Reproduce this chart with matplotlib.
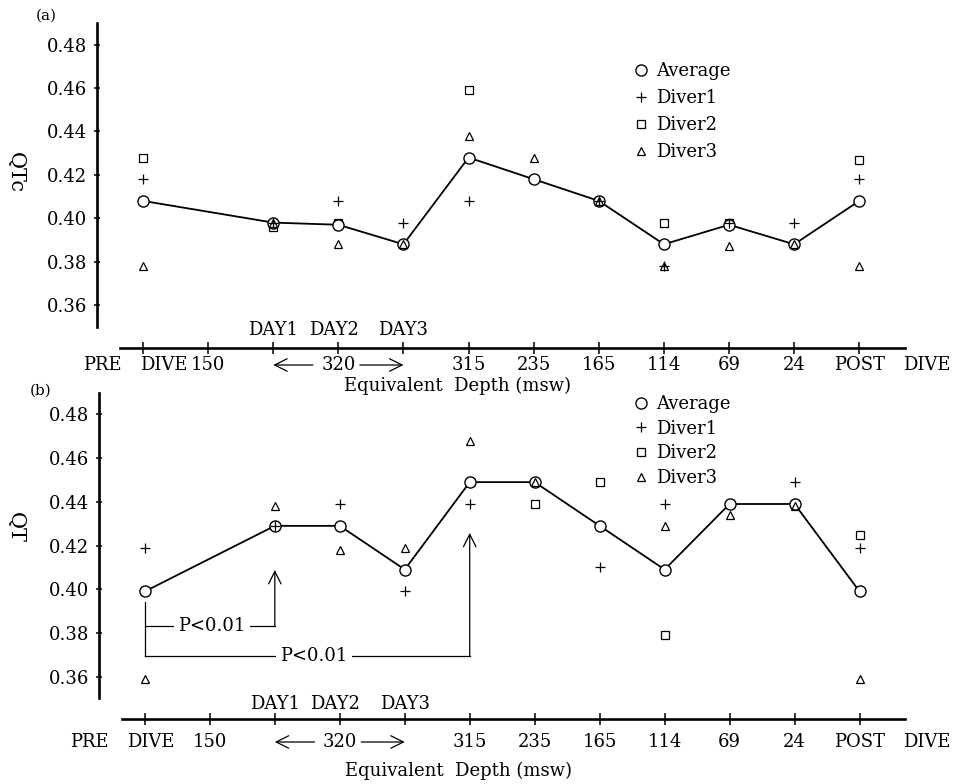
import matplotlib
matplotlib.use("Agg")
import matplotlib.pyplot as plt
from matplotlib.transforms import blended_transform_factory

plt.rcParams['font.family'] = ['DejaVu Serif']

NA = float("nan")  # marker hidden behind the Average circle in the original

# ---------------- data ----------------
tick_positions = list(range(12))
xtick_labels = ["", "150", "", "320", "", "315", "235", "165", "114", "69", "24", "POST"]
day_labels = ["DAY1", "DAY2", "DAY3"]
day_positions = [2, 2.93, 4]
data_x = [0, 2, 3, 4, 5, 6, 7, 8, 9, 10, 11]
yticks = [0.36, 0.38, 0.40, 0.42, 0.44, 0.46, 0.48]
series_names = ["Average", "Diver1", "Diver2", "Diver3"]

# Panel (a) QTc
avg_a = [0.408, 0.398, 0.397, 0.388, 0.428, 0.418, 0.408, 0.388, 0.397, 0.388, 0.408]
d1_a = [0.418, 0.398, 0.408, 0.398, 0.408, NA, 0.408, 0.378, 0.398, 0.398, 0.418]
d2_a = [0.428, 0.396, 0.398, 0.388, 0.459, 0.418, 0.408, 0.398, 0.398, 0.388, 0.427]
d3_a = [0.378, 0.398, 0.388, 0.388, 0.438, 0.428, 0.408, 0.378, 0.387, 0.388, 0.378]

# Panel (b) QT
avg_b = [0.399, 0.429, 0.429, 0.409, 0.449, 0.449, 0.429, 0.409, 0.439, 0.439, 0.399]
d1_b = [0.419, 0.429, 0.439, 0.399, 0.439, NA, 0.410, 0.439, NA, 0.449, 0.419]
d2_b = [0.399, 0.429, 0.429, 0.409, 0.449, 0.439, 0.449, 0.379, 0.439, 0.439, 0.425]
d3_b = [0.359, 0.438, 0.418, 0.419, 0.468, 0.449, NA, 0.429, 0.434, 0.438, 0.359]

FS = 13
W, H = 955, 784
fig = plt.figure(figsize=(W / 100, H / 100), dpi=100)


def make_panel(rect, ylim, series, lab_off, day_off, pre_x, dive_x, post_dive_x,
               legend_anchor, labelspacing):
    ax = fig.add_axes(rect)
    ax.set_xlim(-0.7066, 12.47)
    ax.set_ylim(*ylim)
    for s in ("top", "right"):
        ax.spines[s].set_visible(False)
    ax.spines["left"].set_bounds(0.35, 0.49)
    ax.spines["bottom"].set_bounds(-0.353, 11.70)
    ax.spines["left"].set_linewidth(1.9)
    ax.spines["bottom"].set_linewidth(1.9)

    ax.set_yticks(yticks)
    ax.set_yticklabels([f"{v:.2f}" for v in yticks])
    ax.tick_params(axis="y", direction="inout", length=5, width=1.1,
                   labelsize=FS, pad=4.5)

    ax.set_xticks(tick_positions)
    ax.set_xticklabels(xtick_labels)
    ax.tick_params(axis="x", direction="inout", length=8, width=1.1,
                   labelsize=FS, pad=lab_off * 0.72 - 4)
    for lbl in ax.get_xticklabels():
        lbl.set_va("center")

    avg, d1, d2, d3 = series
    ax.plot(data_x, avg, "-", color="k", lw=1.3, zorder=2)
    h_avg, = ax.plot(data_x, avg, "o", mfc="white", mec="k", ms=8, mew=1.0,
                     zorder=3, linestyle="none")
    h_d1, = ax.plot(data_x, d1, "+", color="k", ms=7, mew=0.9, zorder=4,
                    linestyle="none")
    h_d2, = ax.plot(data_x, d2, "s", mfc="white", mec="k", ms=5.5, mew=0.9,
                    zorder=2.5, linestyle="none")
    h_d3, = ax.plot(data_x, d3, "^", mfc="none", mec="k", ms=5.5, mew=0.9,
                    zorder=4, linestyle="none")

    axh_px = rect[3] * H
    tr = blended_transform_factory(ax.transData, ax.transAxes)
    yl = -lab_off / axh_px
    ax.text(pre_x, yl, "PRE", transform=tr, ha="center", va="center", fontsize=FS)
    ax.text(dive_x, yl, "DIVE", transform=tr, ha="center", va="center", fontsize=FS)
    ax.text(post_dive_x, yl, "DIVE", transform=tr, ha="center", va="center", fontsize=FS)
    arrow = dict(arrowstyle="->,head_length=0.9,head_width=0.45", lw=0.9,
                 color="k", shrinkA=0, shrinkB=0)
    ax.annotate("", xy=(2.0, yl), xytext=(2.61, yl), xycoords=tr, textcoords=tr,
                arrowprops=arrow, annotation_clip=False)
    ax.annotate("", xy=(4.0, yl), xytext=(3.33, yl), xycoords=tr, textcoords=tr,
                arrowprops=arrow, annotation_clip=False)
    yd = day_off / axh_px
    for xp, t in zip(day_positions, day_labels):
        ax.text(xp, yd, t, transform=tr, ha="center", va="center", fontsize=FS)

    ax.legend([h_avg, h_d1, h_d2, h_d3], series_names,
              loc="upper left", bbox_to_anchor=legend_anchor,
              bbox_transform=fig.transFigure, frameon=False, fontsize=FS,
              handlelength=1.0, handletextpad=0.35, borderpad=0,
              borderaxespad=0, labelspacing=labelspacing, numpoints=1)
    return ax


ax_a = make_panel([97 / W, 436 / H, 858 / W, 325 / H], (0.3402, 0.4900),
                  (avg_a, d1_a, d2_a, d3_a), lab_off=17, day_off=18,
                  pre_x=-0.62, dive_x=0.32, post_dive_x=12.04,
                  legend_anchor=(632 / W, (H - 62) / H), labelspacing=0.5)

ax_b = make_panel([99 / W, 65 / H, 856 / W, 326 / H], (0.3406, 0.4898),
                  (avg_b, d1_b, d2_b, d3_b), lab_off=23, day_off=15,
                  pre_x=-0.86, dive_x=0.09, post_dive_x=12.04,
                  legend_anchor=(632 / W, (H - 395) / H), labelspacing=0.37)

# significance brackets in panel (b)
p_text = "P<0.01"
ax_b.plot([0, 0], [0.3942, 0.3695], color="k", lw=0.9)
ax_b.plot([0, 2], [0.3833, 0.3833], color="k", lw=0.9)
ax_b.plot([0, 5], [0.3695, 0.3695], color="k", lw=0.9)
sig_arrow = dict(arrowstyle="->,head_length=0.9,head_width=0.45", lw=0.9,
                 color="k", shrinkA=0, shrinkB=0)
ax_b.annotate("", xy=(2, 0.4088), xytext=(2, 0.3833), arrowprops=sig_arrow)
ax_b.annotate("", xy=(5, 0.4258), xytext=(5, 0.3695), arrowprops=sig_arrow)
ax_b.text(1.03, 0.3833, p_text, ha="center", va="center", fontsize=FS,
          bbox=dict(boxstyle="square,pad=0.25", fc="white", ec="none"), zorder=5)
ax_b.text(2.6, 0.3695, p_text, ha="center", va="center", fontsize=FS,
          bbox=dict(boxstyle="square,pad=0.25", fc="white", ec="none"), zorder=5)

# labels
fig.text(15 / W, (H - 172) / H, "QTc", rotation=-90, ha="center", va="center", fontsize=15)
fig.text(15 / W, (H - 528) / H, "QT", rotation=-90, ha="center", va="center", fontsize=15)
fig.text(457 / W, (H - 386) / H, "Equivalent  Depth (msw)", ha="center", va="center", fontsize=FS)
fig.text(458 / W, (H - 771) / H, "Equivalent  Depth (msw)", ha="center", va="center", fontsize=FS)
fig.text(46 / W, (H - 16) / H, "(a)", ha="center", va="center", fontsize=11)
fig.text(41 / W, (H - 391) / H, "(b)", ha="center", va="center", fontsize=11)

fig.savefig("out.png", dpi=100, facecolor="white")
